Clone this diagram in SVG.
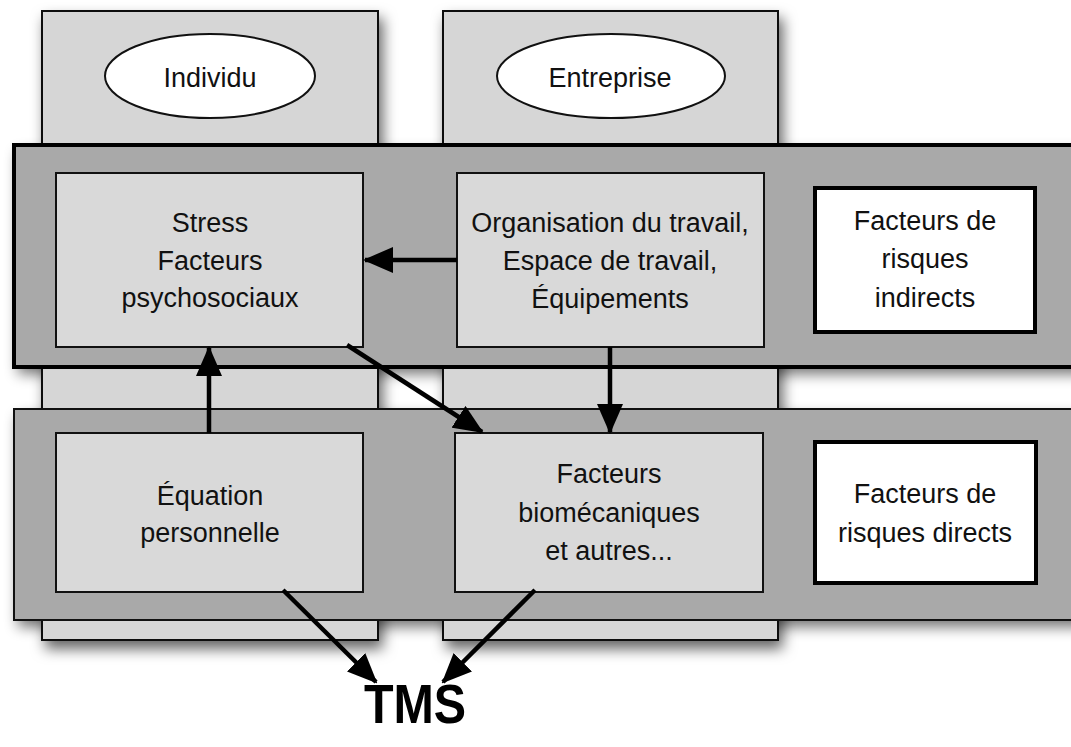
<svg xmlns="http://www.w3.org/2000/svg" width="1071" height="747" viewBox="0 0 1071 747">
<style>
.col{fill:#d6d6d6;stroke:#111;stroke-width:2}
.band1{fill:#a9a9a9;stroke:#000;stroke-width:4}
.band2{fill:#a9a9a9;stroke:#111;stroke-width:2}
.box{fill:#d9d9d9;stroke:#111;stroke-width:2}
.wbox{fill:#fff;stroke:#000;stroke-width:4}
.ell{fill:#fff;stroke:#111;stroke-width:2}
.t{font-family:"Liberation Sans",Arial,sans-serif;font-size:27px;fill:#111;text-anchor:middle}
.tms{font-family:"Liberation Sans",Arial,sans-serif;font-size:55px;font-weight:bold;fill:#000;text-anchor:middle}
.arr{stroke:#000;stroke-width:4.5;fill:none;marker-end:url(#ah)}
</style>
<defs>
<filter id="sh" x="-10%" y="-10%" width="130%" height="140%">
<feDropShadow dx="4" dy="8" stdDeviation="7" flood-color="#000" flood-opacity="0.6"/>
</filter>
<filter id="blur"><feGaussianBlur stdDeviation="7"/></filter>
<marker id="ah" markerUnits="userSpaceOnUse" markerWidth="30" markerHeight="26" refX="28" refY="13" orient="auto">
<path d="M0,0 L30,13 L0,26 z" fill="#000"/>
</marker>
</defs>
<rect width="1071" height="747" fill="#fff"/>
<g id="band-shadows" opacity="0.55">
<rect x="18" y="152" width="1070" height="222" fill="#000" filter="url(#blur)"/>
<rect x="18" y="416" width="1070" height="211" fill="#000" filter="url(#blur)"/>
</g>
<g id="col-individu" filter="url(#sh)">
<rect class="col" x="42" y="11" width="336" height="629"/>
</g>
<g id="col-entreprise" filter="url(#sh)">
<rect class="col" x="443" y="11" width="335" height="629"/>
</g>
<g id="ell-individu">
<ellipse class="ell" cx="210" cy="76" rx="105" ry="42"/>
<text class="t" x="210" y="87">Individu</text>
</g>
<g id="ell-entreprise">
<ellipse class="ell" cx="611" cy="76" rx="114" ry="42"/>
<text class="t" x="610" y="87">Entreprise</text>
</g>
<g id="band-indirect">
<rect class="band1" x="14" y="145" width="1070" height="222"/>
</g>
<g id="band-direct">
<rect class="band2" x="14" y="409" width="1070" height="211"/>
</g>
<g id="stress">
<rect class="box" x="56" y="173" width="307" height="174"/>
<text class="t" x="210" y="232">Stress</text>
<text class="t" x="210" y="270">Facteurs</text>
<text class="t" x="210" y="307">psychosociaux</text>
</g>
<g id="organisation">
<rect class="box" x="457" y="173" width="307" height="174"/>
<text class="t" x="610" y="232">Organisation du travail,</text>
<text class="t" x="610" y="270">Espace de travail,</text>
<text class="t" x="610" y="308">Équipements</text>
</g>
<g id="indirects">
<rect class="wbox" x="815" y="188" width="220" height="144"/>
<text class="t" x="925" y="230">Facteurs de</text>
<text class="t" x="925" y="268">risques</text>
<text class="t" x="925" y="307">indirects</text>
</g>
<g id="equation">
<rect class="box" x="56" y="433" width="307" height="159"/>
<text class="t" x="210" y="505">Équation</text>
<text class="t" x="210" y="542">personnelle</text>
</g>
<g id="biomecaniques">
<rect class="box" x="455" y="433" width="308" height="159"/>
<text class="t" x="609" y="483">Facteurs</text>
<text class="t" x="609" y="522">biomécaniques</text>
<text class="t" x="609" y="560">et autres...</text>
</g>
<g id="directs">
<rect class="wbox" x="815" y="442" width="221" height="141"/>
<text class="t" x="925" y="503">Facteurs de</text>
<text class="t" x="925" y="542">risques directs</text>
</g>
<g id="tms">
<text class="tms" transform="translate(415,723) scale(0.88,1)" x="0" y="0">TMS</text>
</g>
<g id="connectors">
<line class="arr" x1="457" y1="260" x2="365" y2="260"/>
<line class="arr" x1="209" y1="433" x2="209" y2="348"/>
<line class="arr" x1="347" y1="345" x2="482" y2="432"/>
<line class="arr" x1="610" y1="347" x2="610" y2="432"/>
<line class="arr" x1="283" y1="590" x2="376" y2="682"/>
<line class="arr" x1="535" y1="590" x2="443" y2="682"/>
</g>
</svg>
